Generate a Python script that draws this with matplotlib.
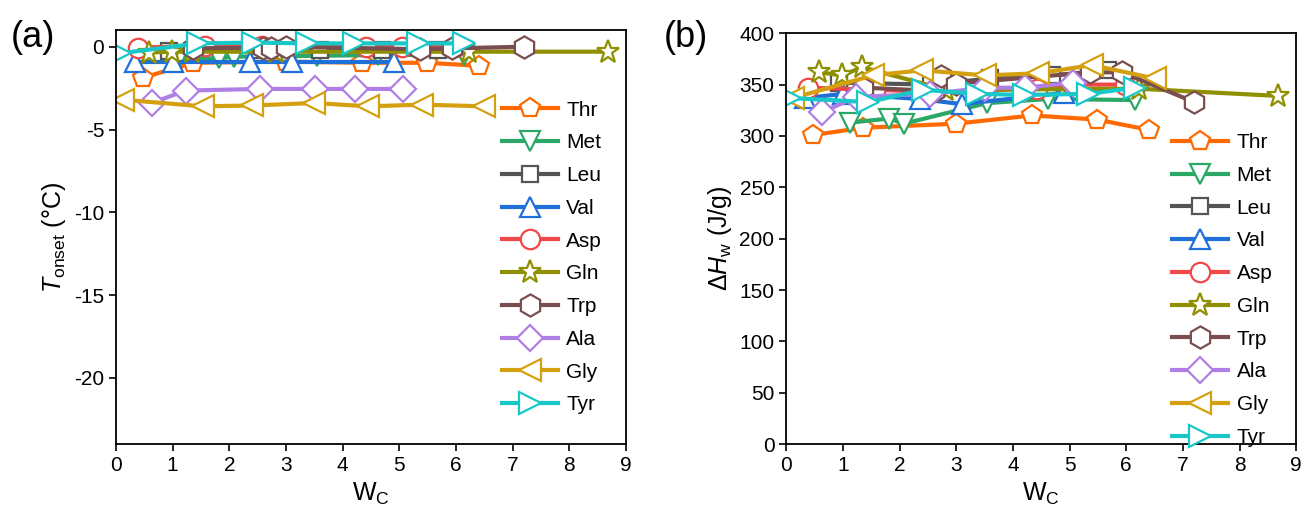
import matplotlib.pyplot as plt

plt.rcParams['font.family'] = ['Liberation Sans', 'DejaVu Sans']
plt.rcParams['axes.unicode_minus'] = False
plt.rcParams['mathtext.fontset'] = 'custom'
plt.rcParams['mathtext.rm'] = 'Liberation Sans'
plt.rcParams['mathtext.it'] = 'Liberation Sans:italic'

names = ['Thr', 'Met', 'Leu', 'Val', 'Asp', 'Gln', 'Trp', 'Ala', 'Gly', 'Tyr']

# water content of each sample
wc_thr = [0.48, 1.36, 3.0, 4.34, 5.48, 6.4]
wc_met = [1.12, 1.82, 2.08, 3.54, 4.62, 6.15]
wc_leu = [0.93, 2.55, 3.6, 4.69, 5.68]
wc_val = [0.34, 1.0, 2.36, 3.1, 4.9]
wc_asp = [0.38, 1.57, 2.57, 4.42, 5.05, 5.98]
wc_gln = [0.58, 0.99, 1.34, 2.82, 6.23, 8.68]
wc_trp = [1.36, 2.6, 2.73, 3.0, 5.36, 5.93, 7.2]
wc_ala = [0.63, 1.23, 2.54, 3.51, 4.22, 5.06]
wc_gly = [0.12, 1.53, 2.4, 3.5, 4.44, 5.4, 6.5]
wc_tyr = [0.07, 1.45, 2.42, 3.37, 4.2, 5.33, 6.15]

# onset temperature (degC)
t_thr = [-1.87, -0.97, -0.9, -0.97, -0.97, -1.15]
t_met = [-0.7, -0.7, -0.6, -0.55, -0.5, -0.5]
t_leu = [-0.25, -0.2, -0.2, -0.2, -0.2]
t_val = [-0.9, -0.9, -0.9, -0.9, -0.9]
t_asp = [-0.05, 0.05, 0.05, 0.0, 0.0, 0.0]
t_gln = [-0.35, -0.3, -0.3, -0.3, -0.3, -0.3]
t_trp = [-0.1, -0.05, -0.05, 0.0, -0.15, -0.1, 0.0]
t_ala = [-3.4, -2.65, -2.55, -2.55, -2.55, -2.55]
t_gly = [-3.2, -3.6, -3.55, -3.4, -3.6, -3.5, -3.6]
t_tyr = [-0.4, 0.2, 0.25, 0.2, 0.2, 0.2, 0.2]

# enthalpy of water (J/g)
h_thr = [301, 308, 312, 320, 316, 306]
h_met = [313, 317, 312, 332, 336, 335]
h_leu = [352, 350, 356, 359, 364]
h_val = [337, 341, 336, 331, 342]
h_asp = [347, 345, 343, 346, 350, 350]
h_gln = [362, 359, 367, 345, 346, 339]
h_trp = [347, 344, 358, 351, 362, 362, 333]
h_ala = [323, 338, 341, 347, 347, 352]
h_gly = [337, 359, 364, 359, 361, 369, 356]
h_tyr = [337, 333, 345, 341, 340, 341, 347]

wc = [wc_thr, wc_met, wc_leu, wc_val, wc_asp, wc_gln, wc_trp, wc_ala, wc_gly, wc_tyr]
tonset = [t_thr, t_met, t_leu, t_val, t_asp, t_gln, t_trp, t_ala, t_gly, t_tyr]
dh = [h_thr, h_met, h_leu, h_val, h_asp, h_gln, h_trp, h_ala, h_gly, h_tyr]

colors = ['#ff6a00', '#2ca866', '#555555', '#1f6fd8', '#f04848',
          '#8f8f00', '#7a4e4e', '#b07fe6', '#d4a010', '#18c8c8']
markers = ['p', 'v', 's', '^', 'o', '*', 'h', 'D', '<', '>']
msizes = [15, 14, 12, 14, 14, 17, 16, 13, 16, 16]

fig = plt.figure(figsize=(13.06, 5.2), dpi=100)
ax1 = fig.add_axes([0.0888, 0.146, 0.3905, 0.796])
ax2 = fig.add_axes([0.602, 0.146, 0.3905, 0.790])

for ax, ys in [(ax1, tonset), (ax2, dh)]:
    for i in range(len(names)):
        ax.plot(wc[i], ys[i], color=colors[i], lw=3, marker=markers[i],
                ms=msizes[i], mfc='white', mec=colors[i], mew=1.6, label=names[i])
    ax.set_xlim(0, 9)
    ax.set_xticks(range(0, 10))
    ax.tick_params(labelsize=15, direction='out', length=5, width=1.2)
    for s in ax.spines.values():
        s.set_linewidth(1.3)
    ax.set_xlabel('W$_{\\rm C}$', fontsize=18)

ax1.set_ylim(-24, 1)
ax1.set_yticks([0, -5, -10, -15, -20])
ax1.set_ylabel('$T_{\\rm onset}$ (\u00b0C)', fontsize=18)
ax2.set_ylim(0, 400)
ax2.set_yticks(range(0, 401, 50))
ax2.set_ylabel('$\\Delta H_{\\rm w}$ (J/g)', fontsize=18)

ax1.legend(loc='upper left', bbox_to_anchor=(0.74, 0.85), frameon=False, fontsize=15,
           handlelength=2.7, labelspacing=0.66, borderaxespad=0, handletextpad=0.4)
ax2.legend(loc='upper left', bbox_to_anchor=(0.74, 0.777), frameon=False, fontsize=15,
           handlelength=2.7, labelspacing=0.66, borderaxespad=0, handletextpad=0.4)

fig.text(0.008, 0.91, '(a)', fontsize=26)
fig.text(0.508, 0.91, '(b)', fontsize=26)

fig.savefig('out.png', dpi=100)
